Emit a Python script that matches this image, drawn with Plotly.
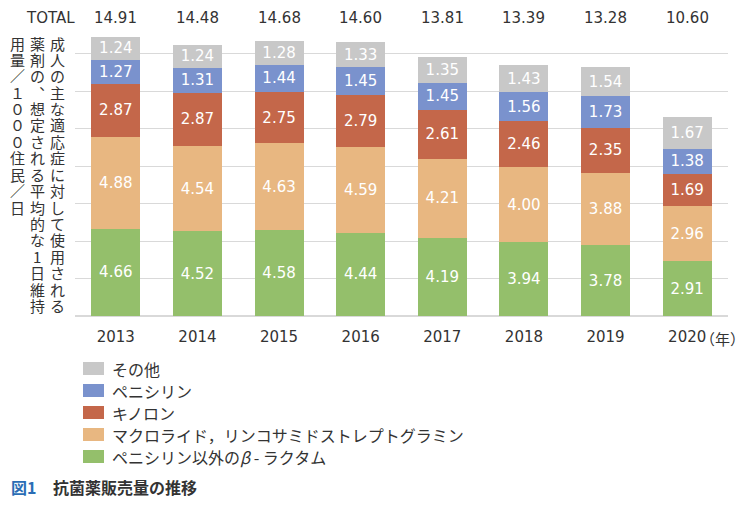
import plotly.graph_objects as go

# data
years = ["2013", "2014", "2015", "2016", "2017", "2018", "2019", "2020"]
beta_lactam = [4.66, 4.52, 4.58, 4.44, 4.19, 3.94, 3.78, 2.91]
macrolide = [4.88, 4.54, 4.63, 4.59, 4.21, 4.00, 3.88, 2.96]
quinolone = [2.87, 2.87, 2.75, 2.79, 2.61, 2.46, 2.35, 1.69]
penicillin = [1.27, 1.31, 1.44, 1.45, 1.45, 1.56, 1.73, 1.38]
others = [1.24, 1.24, 1.28, 1.33, 1.35, 1.43, 1.54, 1.67]
totals = [14.91, 14.48, 14.68, 14.60, 13.81, 13.39, 13.28, 10.60]

series = [
    ("ペニシリン以外の<i>β</i> - ラクタム", beta_lactam, "#94bf6b"),
    ("マクロライド，リンコサミドストレプトグラミン", macrolide, "#e8b781"),
    ("キノロン", quinolone, "#c4674a"),
    ("ペニシリン", penicillin, "#7a92cd"),
    ("その他", others, "#c8c8c8"),
]

ytitle_cols = [
    "成人の主な適応症に対して使用される",
    "薬剤の︑想定される平均的な1日維持",
    "用量／１０００住民／日",
]

JP = "Noto Sans CJK JP"
NUM = "DejaVu Sans"
TXT = "#333333"

# the html page adds an 8px body margin on every side; keep the figure
# small enough that no scrollbar shows up
OFF = 8
W, H = 749 - 2 * OFF, 507 - 2 * OFF
# plot area in page pixels
L, R, T, B = 75, 728, 35, 316


def px(x):
    return (x - L) / (R - L)


def py(y):
    return (B - y) / (B - T)


fig = go.Figure()
for name, vals, col in series:
    fig.add_trace(go.Bar(
        x=years, y=vals, name=name, showlegend=False,
        marker=dict(color=col, line=dict(width=0)),
        texttemplate="%{y:.2f}", textposition="inside",
        insidetextanchor="middle", constraintext="none",
        textfont=dict(color="white", size=15, family=NUM),
    ))

annotations = []
shapes = []

# TOTAL row (category index used for x)
annotations.append(dict(text="TOTAL", xref="paper", yref="paper", x=px(77), y=py(18),
                        xanchor="right", yanchor="middle", showarrow=False,
                        font=dict(size=15, color=TXT, family=NUM)))
for i, t in enumerate(totals):
    annotations.append(dict(text=f"{t:.2f}", x=i, xref="x", yref="paper", y=py(18),
                            yanchor="middle", showarrow=False,
                            font=dict(size=15, color=TXT, family=NUM)))

# vertical y-axis title, columns right to left
col_x = [57, 37, 17]
for cx, col_text in zip(col_x, ytitle_cols):
    for i, ch in enumerate(col_text):
        annotations.append(dict(text=ch, xref="paper", yref="paper",
                                x=px(cx), y=py(43 + 16.4 * i),
                                xanchor="center", yanchor="middle", showarrow=False,
                                font=dict(size=15, color=TXT, family=JP)))

# (年) after the last year label
annotations.append(dict(text="（年）", x=len(years) - 1, xref="x", yref="paper",
                        y=py(338), xshift=35, yanchor="middle", showarrow=False,
                        font=dict(size=15, color=TXT, family=JP)))

# legend drawn by hand, top row is the top segment
for k, (name, vals, col) in enumerate(reversed(series)):
    cy = 368.5 + 22 * k
    shapes.append(dict(type="rect", xref="paper", yref="paper",
                       x0=px(83), x1=px(104), y0=py(cy - 6.5), y1=py(cy + 6.5),
                       fillcolor=col, line=dict(width=0)))
    annotations.append(dict(text=name, xref="paper", yref="paper", x=px(110), y=py(cy),
                            xanchor="left", yanchor="middle", showarrow=False,
                            font=dict(size=16, color=TXT, family=JP)))

# caption
annotations.append(dict(text="<b>図1</b>", xref="paper", yref="paper", x=px(9),
                        y=py(487), xanchor="left", yanchor="middle", showarrow=False,
                        font=dict(size=16, color="#2a6db5", family=JP)))
annotations.append(dict(text="<b>抗菌薬販売量の推移</b>", xref="paper", yref="paper",
                        x=px(51), y=py(487), xanchor="left",
                        yanchor="middle", showarrow=False,
                        font=dict(size=16, color=TXT, family=JP)))

fig.update_layout(
    barmode="stack",
    bargap=0.4,
    width=W, height=H,
    margin=dict(l=L - OFF, r=OFF + W - R, t=T - OFF, b=OFF + H - B, autoexpand=False),
    paper_bgcolor="white", plot_bgcolor="white",
    font=dict(family=JP, color=TXT),
    showlegend=False,
    # fixed range so the axis-referenced annotations do not widen it
    xaxis=dict(type="category", range=[-0.5, len(years) - 0.5], autorange=False,
               showgrid=False, ticks="outside", ticklen=7,
               tickcolor="white", tickfont=dict(size=15, color=TXT, family=NUM),
               showline=False, automargin=False),
    yaxis=dict(range=[0, 15], dtick=2, showgrid=True, gridcolor="#d9d9d9",
               showticklabels=False, zeroline=True, zerolinecolor="#d9d9d9",
               automargin=False),
    annotations=annotations,
    shapes=shapes,
)

fig.write_html("out.html")
